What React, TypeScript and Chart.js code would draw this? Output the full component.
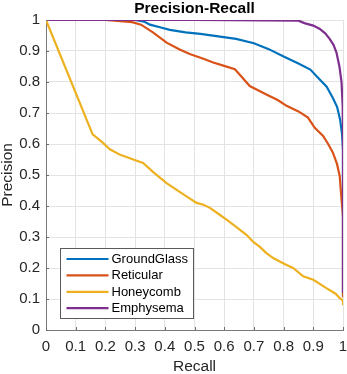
import React, { useEffect, useRef } from "react";
import { Chart, registerables } from "chart.js";

Chart.register(...registerables);

const chartTitle = "Precision-Recall";
const xTitle = "Recall";
const yTitle = "Precision";
const tickValues = [0, 0.1, 0.2, 0.3, 0.4, 0.5, 0.6, 0.7, 0.8, 0.9, 1];
const tickLabels = ["0", "0.1", "0.2", "0.3", "0.4", "0.5", "0.6", "0.7", "0.8", "0.9", "1"];

const seriesNames = ["GroundGlass", "Reticular", "Honeycomb", "Emphysema"];
const seriesColors = ["#0072BD", "#D95319", "#EDB120", "#7E2F8E"];

const groundGlassRecall = [0, 0.1, 0.2, 0.3, 0.33, 0.35, 0.39, 0.417, 0.47, 0.52, 0.58, 0.64, 0.7, 0.75, 0.8, 0.85, 0.89, 0.92, 0.945, 0.965, 0.98, 0.99, 0.997, 1, 1];
const groundGlassPrecision = [1, 1, 1, 1, 0.995, 0.985, 0.975, 0.968, 0.96, 0.955, 0.947, 0.939, 0.925, 0.906, 0.882, 0.86, 0.84, 0.81, 0.785, 0.75, 0.72, 0.68, 0.63, 0.58, 0.11];

const reticularRecall = [0, 0.1, 0.2, 0.23, 0.29, 0.32, 0.36, 0.406, 0.45, 0.484, 0.53, 0.563, 0.6, 0.636, 0.66, 0.686, 0.742, 0.78, 0.81, 0.85, 0.882, 0.905, 0.933, 0.95, 0.966, 0.98, 0.989, 0.995, 0.999, 1, 1];
const reticularPrecision = [1, 1, 1, 0.998, 0.993, 0.985, 0.96, 0.927, 0.905, 0.89, 0.875, 0.863, 0.852, 0.841, 0.815, 0.787, 0.76, 0.742, 0.723, 0.705, 0.685, 0.652, 0.626, 0.6, 0.572, 0.535, 0.496, 0.421, 0.38, 0.36, 0.105];

const honeycombRecall = [0, 0.157, 0.19, 0.215, 0.25, 0.294, 0.327, 0.36, 0.406, 0.44, 0.473, 0.507, 0.53, 0.552, 0.58, 0.608, 0.64, 0.675, 0.697, 0.72, 0.742, 0.765, 0.787, 0.81, 0.832, 0.866, 0.9, 0.944, 0.975, 0.989, 1, 1];
const honeycombPrecision = [1, 0.631, 0.605, 0.583, 0.565, 0.55, 0.539, 0.51, 0.474, 0.452, 0.431, 0.41, 0.404, 0.394, 0.375, 0.356, 0.333, 0.307, 0.285, 0.268, 0.248, 0.232, 0.221, 0.21, 0.2, 0.173, 0.162, 0.135, 0.117, 0.103, 0.095, 0.08];

const emphysemaRecall = [0, 0.5, 0.85, 0.87, 0.9, 0.922, 0.94, 0.955, 0.968, 0.978, 0.988, 0.995, 0.999, 1, 1];
const emphysemaPrecision = [1, 1, 0.998, 0.99, 0.982, 0.971, 0.957, 0.939, 0.92, 0.895, 0.85, 0.8, 0.72, 0.62, 0.12];

const FONT = "'Liberation Sans', Arial, Helvetica, sans-serif";

function pts(xs: number[], ys: number[]) {
  return xs.map((x, i) => ({ x, y: ys[i] }));
}

const overlayPlugin = {
  id: "matlabOverlay",
  afterDraw(chart: any) {
    const ctx = chart.ctx;
    const area = chart.chartArea;
    const xs = chart.scales.x;
    const ys = chart.scales.y;
    ctx.save();
    ctx.strokeStyle = "#6e6e6e";
    ctx.lineWidth = 1;
    tickValues.forEach((v) => {
      const px = Math.round(xs.getPixelForValue(v)) + 0.5;
      ctx.beginPath();
      ctx.moveTo(px, area.bottom);
      ctx.lineTo(px, area.bottom - 3);
      ctx.stroke();
      const py = Math.round(ys.getPixelForValue(v)) + 0.5;
      ctx.beginPath();
      ctx.moveTo(area.left, py);
      ctx.lineTo(area.left + 3, py);
      ctx.stroke();
    });
    ctx.fillStyle = "#000";
    ctx.font = `bold 15.5px ${FONT}`;
    ctx.textAlign = "center";
    ctx.textBaseline = "middle";
    ctx.fillText(chartTitle, (area.left + area.right) / 2, 9);
    const bx = area.left + 13.5;
    const by = area.bottom - 82;
    const bw = 133;
    const bh = 70;
    ctx.fillStyle = "#fff";
    ctx.fillRect(bx, by, bw, bh);
    ctx.strokeStyle = "#5a5a5a";
    ctx.lineWidth = 1;
    ctx.strokeRect(Math.round(bx) + 0.5, Math.round(by) + 0.5, bw, bh);
    ctx.font = `13px ${FONT}`;
    ctx.textAlign = "left";
    seriesNames.forEach((name, i) => {
      const cy = by + 11 + i * 16.4;
      ctx.strokeStyle = seriesColors[i];
      ctx.lineWidth = 2.2;
      ctx.beginPath();
      ctx.moveTo(bx + 7, cy);
      ctx.lineTo(bx + 49, cy);
      ctx.stroke();
      ctx.fillStyle = "#000";
      ctx.fillText(name, bx + 52, cy + 0.5);
    });
    ctx.restore();
  },
};

const tickCb = (v: any) => tickLabels[tickValues.findIndex((t) => Math.abs(t - v) < 1e-6)];

export default function App() {
  const ref = useRef<HTMLCanvasElement | null>(null);
  useEffect(() => {
    if (!ref.current) return;
    const recalls = [groundGlassRecall, reticularRecall, honeycombRecall, emphysemaRecall];
    const precisions = [groundGlassPrecision, reticularPrecision, honeycombPrecision, emphysemaPrecision];
    const chart = new Chart(ref.current, {
      type: "line",
      data: {
        datasets: seriesNames.map((name, i) => ({
          label: name,
          data: pts(recalls[i], precisions[i]),
          borderColor: seriesColors[i],
          backgroundColor: seriesColors[i],
          borderWidth: 2.2,
          pointRadius: 0,
          tension: 0,
          fill: false,
          order: 3 - i,
        })),
      },
      options: {
        animation: false,
        responsive: true,
        maintainAspectRatio: false,
        layout: { padding: { top: 20, right: 4, left: 0, bottom: 0 } },
        plugins: {
          legend: { display: false },
          title: { display: false },
          tooltip: { enabled: false },
        },
        scales: {
          x: {
            type: "linear",
            min: 0,
            max: 1,
            afterFit: (s: any) => {
              s.height = 44;
              s.paddingLeft = 0;
              s.paddingRight = 0;
            },
            afterBuildTicks: (s: any) => {
              s.ticks = tickValues.map((v) => ({ value: v }));
            },
            ticks: {
              callback: tickCb,
              color: "#262626",
              font: { family: FONT, size: 15, lineHeight: 1 },
              padding: 9,
              maxRotation: 0,
              autoSkip: false,
            },
            grid: { color: "#e3e3e3", drawTicks: false, lineWidth: 1 },
            border: { display: true, color: "#7a7a7a", width: 1 },
            title: {
              display: true,
              text: xTitle,
              color: "#262626",
              font: { family: FONT, size: 15.5, lineHeight: 1 },
              padding: { top: 0, bottom: 0 },
            },
          },
          y: {
            type: "linear",
            min: 0,
            max: 1,
            afterFit: (s: any) => {
              s.width = 46;
              s.paddingTop = 0;
              s.paddingBottom = 0;
            },
            afterBuildTicks: (s: any) => {
              s.ticks = tickValues.map((v) => ({ value: v }));
            },
            ticks: {
              callback: tickCb,
              color: "#262626",
              font: { family: FONT, size: 15, lineHeight: 1 },
              padding: 6,
              autoSkip: false,
            },
            grid: { color: "#e3e3e3", drawTicks: false, lineWidth: 1 },
            border: { display: true, color: "#7a7a7a", width: 1 },
            title: {
              display: true,
              text: yTitle,
              color: "#262626",
              font: { family: FONT, size: 15.5, lineHeight: 1 },
              padding: { top: 0, bottom: 0 },
            },
          },
        },
      },
      plugins: [overlayPlugin],
    });
    return () => chart.destroy();
  }, []);
  return (
    <div style={{ position: "fixed", left: 0, top: 0, width: 347, height: 374, background: "#fff" }}>
      <canvas ref={ref} />
    </div>
  );
}
